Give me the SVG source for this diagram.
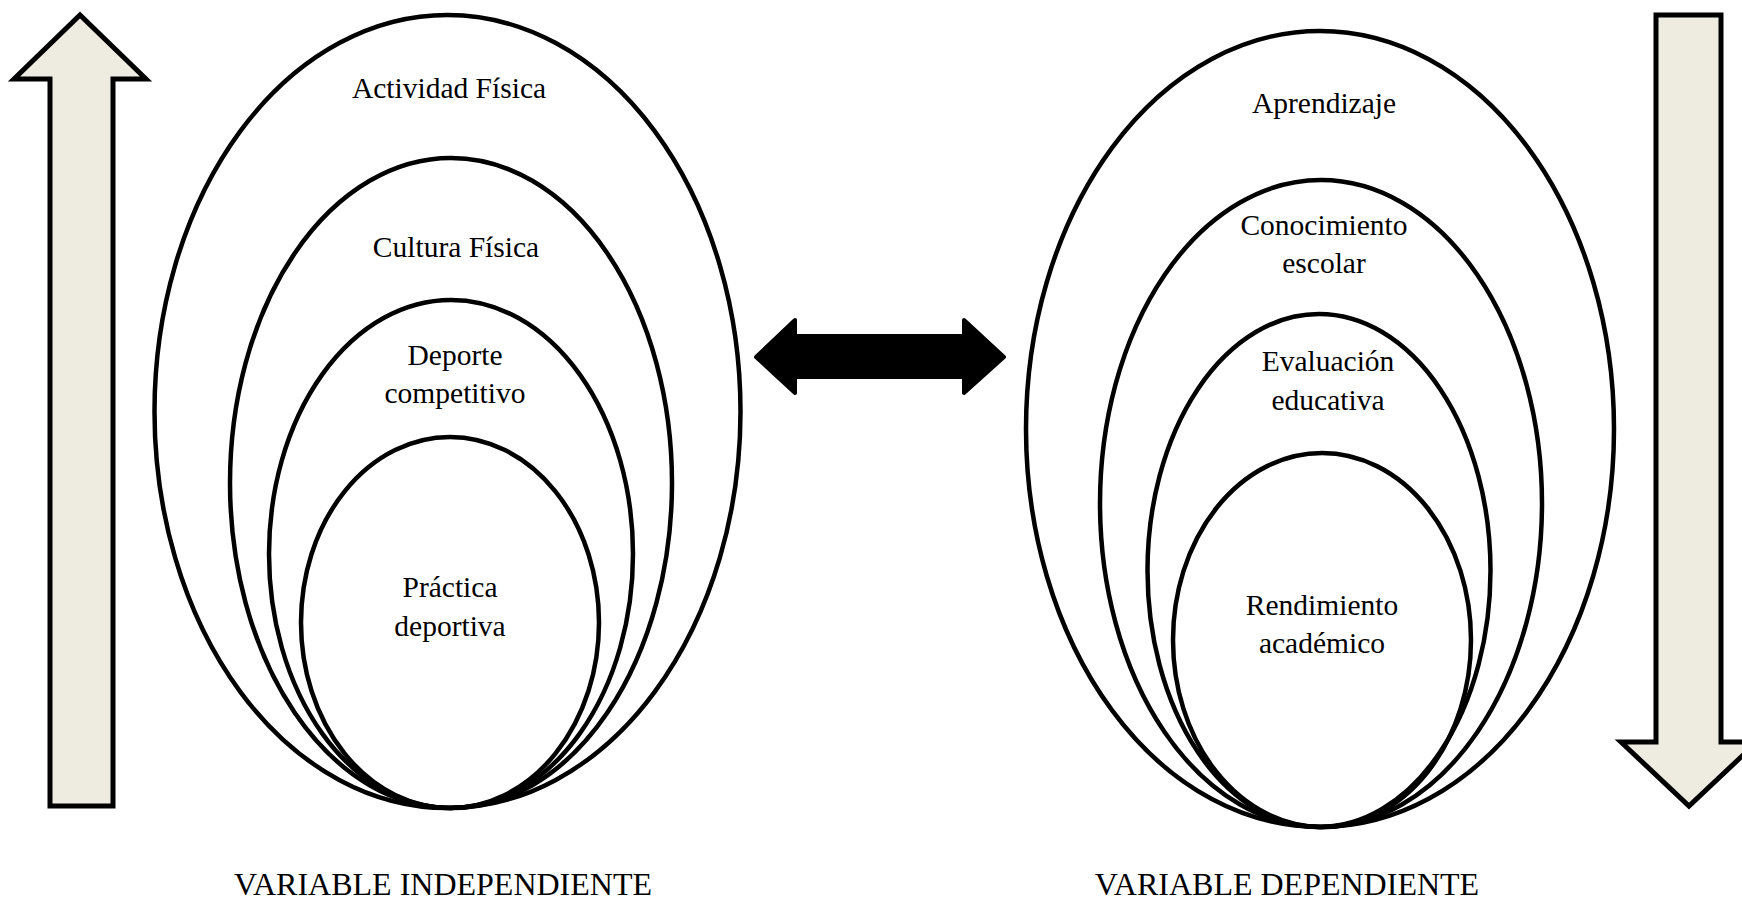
<svg xmlns="http://www.w3.org/2000/svg" width="1742" height="900" viewBox="0 0 1742 900">
<style>
.el{fill:none;stroke:#000;stroke-width:4.5}
.bg{fill:#eeece1;stroke:#000;stroke-width:5;stroke-linejoin:miter}
.t{font-family:"Liberation Serif","Times New Roman",serif;font-size:29.5px;fill:#000;text-anchor:middle}
.lb{font-family:"Liberation Serif","Times New Roman",serif;font-size:32px;fill:#000;text-anchor:middle}
</style>
<rect width="1742" height="900" fill="#fff"/>
<g id="arrow-up"><polygon class="bg" points="80,15 146,79 113,79 113,806 50,806 50,79 14,79"/></g>
<g id="arrow-down"><polygon class="bg" points="1656,15 1721,15 1721,742 1757,742 1689,806 1621,742 1656,742"/></g>
<g id="left-outer"><ellipse class="el" cx="447.5" cy="411.5" rx="293" ry="396.5"/><text class="t" x="449" y="98">Actividad Física</text></g>
<g id="left-2"><ellipse class="el" cx="451" cy="483" rx="221" ry="325"/><text class="t" x="456" y="257">Cultura Física</text></g>
<g id="left-3"><ellipse class="el" cx="451" cy="554" rx="182" ry="254"/><text class="t" x="455" y="365">Deporte</text><text class="t" x="455" y="403">competitivo</text></g>
<g id="left-4"><ellipse class="el" cx="450" cy="622.5" rx="149" ry="185.5"/><text class="t" x="450" y="597">Práctica</text><text class="t" x="450" y="636">deportiva</text></g>
<g id="right-outer"><ellipse class="el" cx="1320" cy="429" rx="294" ry="398"/><text class="t" x="1324" y="113">Aprendizaje</text></g>
<g id="right-2"><ellipse class="el" cx="1321" cy="503.5" rx="221" ry="323.5"/><text class="t" x="1324" y="235">Conocimiento</text><text class="t" x="1324" y="273">escolar</text></g>
<g id="right-3"><ellipse class="el" cx="1319" cy="570.5" rx="171.5" ry="256.5"/><text class="t" x="1328" y="371">Evaluación</text><text class="t" x="1328" y="410">educativa</text></g>
<g id="right-4"><ellipse class="el" cx="1322" cy="640" rx="149" ry="187"/><text class="t" x="1322" y="615">Rendimiento</text><text class="t" x="1322" y="653">académico</text></g>
<g id="connectors"><polygon points="756,357 795,320 795,336 964,336 964,320 1004,357 964,393 964,377 795,377 795,393" fill="#000" stroke="#000" stroke-width="4" stroke-linejoin="round"/></g>
<g id="labels"><text class="lb" x="443" y="895">VARIABLE INDEPENDIENTE</text><text class="lb" x="1287" y="895">VARIABLE DEPENDIENTE</text></g>
</svg>
